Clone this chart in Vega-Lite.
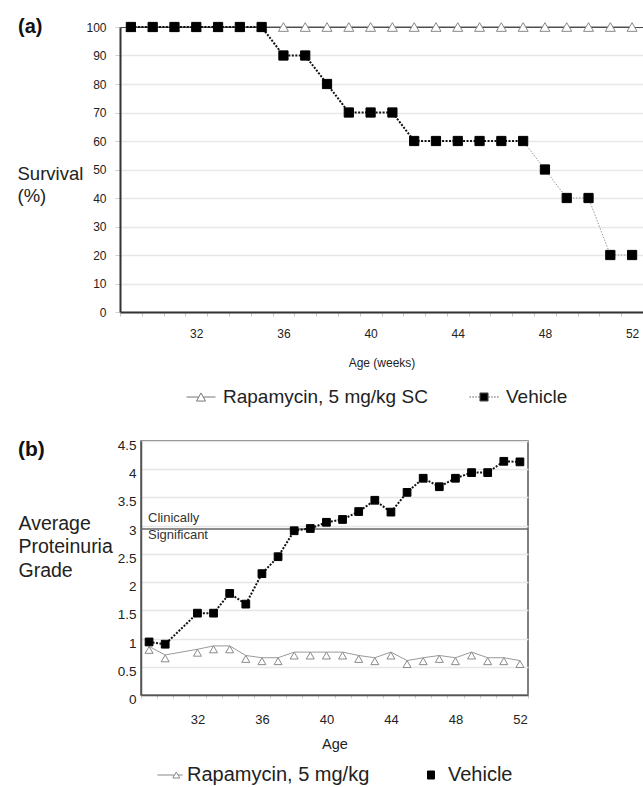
{
  "$schema": "https://vega.github.io/schema/vega-lite/v6.json",
  "padding": {"left": 17, "top": 17, "right": 0, "bottom": 0},
  "autosize": {"type": "pad"},
  "background": "white",
  "config": {
    "font": "Liberation Sans",
    "view": {"stroke": null},
    "axis": {"labelFont": "Liberation Sans", "titleFont": "Liberation Sans", "labelColor": "#222", "titleColor": "#222", "titleFontWeight": "normal"},
    "legend": {"labelFont": "Liberation Sans", "labelColor": "#222", "labelLimit": 0},
    "title": {"font": "Liberation Sans"}
  },
  "datasets": {
    "survival": [
      {"group": "Rapamycin, 5 mg/kg SC", "week": 29, "survival": 100},
      {"group": "Rapamycin, 5 mg/kg SC", "week": 30, "survival": 100},
      {"group": "Rapamycin, 5 mg/kg SC", "week": 31, "survival": 100},
      {"group": "Rapamycin, 5 mg/kg SC", "week": 32, "survival": 100},
      {"group": "Rapamycin, 5 mg/kg SC", "week": 33, "survival": 100},
      {"group": "Rapamycin, 5 mg/kg SC", "week": 34, "survival": 100},
      {"group": "Rapamycin, 5 mg/kg SC", "week": 35, "survival": 100},
      {"group": "Rapamycin, 5 mg/kg SC", "week": 36, "survival": 100},
      {"group": "Rapamycin, 5 mg/kg SC", "week": 37, "survival": 100},
      {"group": "Rapamycin, 5 mg/kg SC", "week": 38, "survival": 100},
      {"group": "Rapamycin, 5 mg/kg SC", "week": 39, "survival": 100},
      {"group": "Rapamycin, 5 mg/kg SC", "week": 40, "survival": 100},
      {"group": "Rapamycin, 5 mg/kg SC", "week": 41, "survival": 100},
      {"group": "Rapamycin, 5 mg/kg SC", "week": 42, "survival": 100},
      {"group": "Rapamycin, 5 mg/kg SC", "week": 43, "survival": 100},
      {"group": "Rapamycin, 5 mg/kg SC", "week": 44, "survival": 100},
      {"group": "Rapamycin, 5 mg/kg SC", "week": 45, "survival": 100},
      {"group": "Rapamycin, 5 mg/kg SC", "week": 46, "survival": 100},
      {"group": "Rapamycin, 5 mg/kg SC", "week": 47, "survival": 100},
      {"group": "Rapamycin, 5 mg/kg SC", "week": 48, "survival": 100},
      {"group": "Rapamycin, 5 mg/kg SC", "week": 49, "survival": 100},
      {"group": "Rapamycin, 5 mg/kg SC", "week": 50, "survival": 100},
      {"group": "Rapamycin, 5 mg/kg SC", "week": 51, "survival": 100},
      {"group": "Rapamycin, 5 mg/kg SC", "week": 52, "survival": 100},
      {"group": "Vehicle", "week": 29, "survival": 100},
      {"group": "Vehicle", "week": 30, "survival": 100},
      {"group": "Vehicle", "week": 31, "survival": 100},
      {"group": "Vehicle", "week": 32, "survival": 100},
      {"group": "Vehicle", "week": 33, "survival": 100},
      {"group": "Vehicle", "week": 34, "survival": 100},
      {"group": "Vehicle", "week": 35, "survival": 100},
      {"group": "Vehicle", "week": 36, "survival": 90},
      {"group": "Vehicle", "week": 37, "survival": 90},
      {"group": "Vehicle", "week": 38, "survival": 80},
      {"group": "Vehicle", "week": 39, "survival": 70},
      {"group": "Vehicle", "week": 40, "survival": 70},
      {"group": "Vehicle", "week": 41, "survival": 70},
      {"group": "Vehicle", "week": 42, "survival": 60},
      {"group": "Vehicle", "week": 43, "survival": 60},
      {"group": "Vehicle", "week": 44, "survival": 60},
      {"group": "Vehicle", "week": 45, "survival": 60},
      {"group": "Vehicle", "week": 46, "survival": 60},
      {"group": "Vehicle", "week": 47, "survival": 60},
      {"group": "Vehicle", "week": 48, "survival": 50},
      {"group": "Vehicle", "week": 49, "survival": 40},
      {"group": "Vehicle", "week": 50, "survival": 40},
      {"group": "Vehicle", "week": 51, "survival": 20},
      {"group": "Vehicle", "week": 52, "survival": 20}
    ],
    "proteinuria": [
      {"group": "Rapamycin, 5 mg/kg", "week": 29, "grade": 0.86},
      {"group": "Rapamycin, 5 mg/kg", "week": 30, "grade": 0.71},
      {"group": "Rapamycin, 5 mg/kg", "week": 32, "grade": 0.81},
      {"group": "Rapamycin, 5 mg/kg", "week": 33, "grade": 0.87},
      {"group": "Rapamycin, 5 mg/kg", "week": 34, "grade": 0.87},
      {"group": "Rapamycin, 5 mg/kg", "week": 35, "grade": 0.70},
      {"group": "Rapamycin, 5 mg/kg", "week": 36, "grade": 0.66},
      {"group": "Rapamycin, 5 mg/kg", "week": 37, "grade": 0.66},
      {"group": "Rapamycin, 5 mg/kg", "week": 38, "grade": 0.76},
      {"group": "Rapamycin, 5 mg/kg", "week": 39, "grade": 0.76},
      {"group": "Rapamycin, 5 mg/kg", "week": 40, "grade": 0.76},
      {"group": "Rapamycin, 5 mg/kg", "week": 41, "grade": 0.76},
      {"group": "Rapamycin, 5 mg/kg", "week": 42, "grade": 0.70},
      {"group": "Rapamycin, 5 mg/kg", "week": 43, "grade": 0.66},
      {"group": "Rapamycin, 5 mg/kg", "week": 44, "grade": 0.76},
      {"group": "Rapamycin, 5 mg/kg", "week": 45, "grade": 0.61},
      {"group": "Rapamycin, 5 mg/kg", "week": 46, "grade": 0.66},
      {"group": "Rapamycin, 5 mg/kg", "week": 47, "grade": 0.70},
      {"group": "Rapamycin, 5 mg/kg", "week": 48, "grade": 0.66},
      {"group": "Rapamycin, 5 mg/kg", "week": 49, "grade": 0.76},
      {"group": "Rapamycin, 5 mg/kg", "week": 50, "grade": 0.66},
      {"group": "Rapamycin, 5 mg/kg", "week": 51, "grade": 0.66},
      {"group": "Rapamycin, 5 mg/kg", "week": 52, "grade": 0.61},
      {"group": "Vehicle", "week": 29, "grade": 0.94},
      {"group": "Vehicle", "week": 30, "grade": 0.90},
      {"group": "Vehicle", "week": 32, "grade": 1.45},
      {"group": "Vehicle", "week": 33, "grade": 1.45},
      {"group": "Vehicle", "week": 34, "grade": 1.80},
      {"group": "Vehicle", "week": 35, "grade": 1.61},
      {"group": "Vehicle", "week": 36, "grade": 2.15},
      {"group": "Vehicle", "week": 37, "grade": 2.45},
      {"group": "Vehicle", "week": 38, "grade": 2.91},
      {"group": "Vehicle", "week": 39, "grade": 2.95},
      {"group": "Vehicle", "week": 40, "grade": 3.06},
      {"group": "Vehicle", "week": 41, "grade": 3.11},
      {"group": "Vehicle", "week": 42, "grade": 3.25},
      {"group": "Vehicle", "week": 43, "grade": 3.45},
      {"group": "Vehicle", "week": 44, "grade": 3.24},
      {"group": "Vehicle", "week": 45, "grade": 3.59},
      {"group": "Vehicle", "week": 46, "grade": 3.84},
      {"group": "Vehicle", "week": 47, "grade": 3.69},
      {"group": "Vehicle", "week": 48, "grade": 3.84},
      {"group": "Vehicle", "week": 49, "grade": 3.94},
      {"group": "Vehicle", "week": 50, "grade": 3.94},
      {"group": "Vehicle", "week": 51, "grade": 4.14},
      {"group": "Vehicle", "week": 52, "grade": 4.13}
    ],
    "threshold": [
      {"grade": 2.94, "note": "Clinically Significant"}
    ]
  },
  "bounds": "flush",
  "spacing": 129,
  "resolve": {
    "scale": {"shape": "independent", "fill": "independent", "stroke": "independent"},
    "legend": {"shape": "independent", "fill": "independent", "stroke": "independent"}
  },
  "vconcat": [
    {
      "width": 523,
      "height": 285,
      "title": {"text": "(a)", "anchor": "start", "frame": "group", "dx": -102, "dy": 6, "offset": -21, "baseline": "middle", "fontSize": 20, "fontWeight": "bold", "color": "#111"},
      "data": {"name": "survival"},
      "resolve": {"axis": {"x": "independent"}},
      "layer": [
        {
          "transform": [{"filter": "datum.group == 'Rapamycin, 5 mg/kg SC'"}],
          "mark": {"type": "line", "color": "#555", "strokeWidth": 1.2},
          "encoding": {
            "x": {"field": "week", "type": "quantitative", "scale": {"domain": [28.5, 52.5], "nice": false, "zero": false},
              "axis": {"orient": "bottom", "values": [28.5, 29.5, 30.5, 31.5, 32.5, 33.5, 34.5, 35.5, 36.5, 37.5, 38.5, 39.5, 40.5, 41.5, 42.5, 43.5, 44.5, 45.5, 46.5, 47.5, 48.5, 49.5, 50.5, 51.5, 52.5],
                "tickCount": 500, "labels": false, "tickSize": 4, "tickColor": "#c8c8c8", "domainColor": "#333", "domainWidth": 2, "grid": false, "title": null}},
            "y": {"field": "survival", "type": "quantitative", "scale": {"domain": [0, 100], "nice": false},
              "axis": {"values": [0, 10, 20, 30, 40, 50, 60, 70, 80, 90, 100], "tickCount": 500, "format": "d", "labelOverlap": false, "labelFontSize": 12, "tickSize": 5, "tickColor": "#d0d0d0", "labelPadding": 9,
                "domainColor": "#333", "domainWidth": 2,
                "gridColor": {"condition": {"test": "datum.value == 100", "value": "#444"}, "value": "#e8e8e8"},
                "gridWidth": {"condition": {"test": "datum.value == 100", "value": 1.2}, "value": 1.5},
                "title": ["Survival", "(%)"], "titleAngle": 0, "titleAlign": "left", "titleBaseline": "middle", "titleX": -103, "titleY": 146, "titleFontSize": 18.5, "titleLineHeight": 22}}
          }
        },
        {
          "transform": [{"filter": "datum.group == 'Vehicle' && datum.week <= 47"}],
          "mark": {"type": "line", "color": "#111", "strokeWidth": 2, "strokeDash": [2, 1.5]},
          "encoding": {
            "x": {"field": "week", "type": "quantitative",
              "axis": {"orient": "bottom", "values": [32, 36, 40, 44, 48, 52], "tickCount": 500, "format": "d", "ticks": false, "tickSize": 0, "domain": false, "grid": false, "labelFontSize": 12, "labelPadding": 16,
                "labelFlush": false, "labelOverlap": false, "labelBound": false, "title": "Age (weeks)", "titleFontSize": 12, "titlePadding": 18}},
            "y": {"field": "survival", "type": "quantitative"}
          }
        },
        {
          "transform": [{"filter": "datum.group == 'Vehicle' && datum.week >= 47"}],
          "mark": {"type": "line", "color": "#999", "strokeWidth": 1, "strokeDash": [1.5, 1.5]},
          "encoding": {
            "x": {"field": "week", "type": "quantitative", "axis": null},
            "y": {"field": "survival", "type": "quantitative"}
          }
        },
        {
          "mark": {"type": "point", "opacity": 1, "strokeWidth": 1},
          "encoding": {
            "x": {"field": "week", "type": "quantitative", "axis": null},
            "y": {"field": "survival", "type": "quantitative"},
            "shape": {"condition": {"test": "datum.group == 'Vehicle'", "value": "square"}, "value": "triangle-up"},
            "fill": {"condition": {"test": "datum.group == 'Vehicle'", "value": "#000000"}, "value": "#ffffff"},
            "stroke": {"condition": {"test": "datum.group == 'Vehicle'", "value": "#000000"}, "value": "#888888"},
            "size": {"condition": {"test": "datum.group == 'Vehicle'", "value": 85}, "value": 100}
          }
        },
        {
          "mark": {"type": "point", "opacity": 0},
          "encoding": {
            "x": {"field": "week", "type": "quantitative", "axis": null},
            "y": {"field": "survival", "type": "quantitative"},
            "shape": {"field": "group", "type": "nominal",
              "scale": {"domain": ["Rapamycin, 5 mg/kg SC", "Vehicle"], "range": ["M-1,0H-0.16M0.16,0H1M0,-0.28L0.31,0.28H-0.31Z", "M-1,0H-0.9M-0.8,0H-0.7M-0.6,0H-0.5M-0.4,0H-0.3M0.3,0H0.4M0.5,0H0.6M0.7,0H0.8M0.9,0H1M-0.28,-0.28H0.28V0.28H-0.28Z"]},
              "legend": {"orient": "none", "legendX": 66, "legendY": 355, "direction": "horizontal", "title": null, "labelFontSize": 19, "labelLimit": 0, "symbolSize": 841, "symbolOpacity": 1, "symbolStrokeWidth": 1, "labelOffset": 7, "columnPadding": 39}},
            "fill": {"field": "group", "type": "nominal", "scale": {"domain": ["Rapamycin, 5 mg/kg SC", "Vehicle"], "range": ["#ffffff", "#000000"]}},
            "stroke": {"field": "group", "type": "nominal", "scale": {"domain": ["Rapamycin, 5 mg/kg SC", "Vehicle"], "range": ["#777777", "#555555"]}}
          }
        }
      ]
    },
    {
      "bounds": "flush",
      "spacing": 0,
      "resolve": {
        "scale": {"shape": "independent", "fill": "independent", "stroke": "independent"},
        "legend": {"shape": "independent", "fill": "independent", "stroke": "independent"}
      },
      "hconcat": [
        {
          "width": 21,
          "height": 10,
          "data": {"values": [{}]},
          "mark": {"type": "point", "opacity": 0}
        },
        {
          "width": 387,
          "height": 254,
          "view": {"stroke": "#555", "strokeWidth": 1.5},
          "title": {"text": "(b)", "anchor": "start", "frame": "group", "dx": -123, "dy": 9, "offset": -23.5, "baseline": "middle", "fontSize": 21, "fontWeight": "bold", "color": "#111"},
          "resolve": {"axis": {"x": "independent"}},
          "layer": [
            {
              "data": {"name": "threshold"},
              "mark": {"type": "rule", "color": "#666", "strokeWidth": 1.5},
              "encoding": {
                "y": {"field": "grade", "type": "quantitative", "scale": {"domain": [0, 4.5], "nice": false},
                  "axis": {"values": [0, 0.5, 1, 1.5, 2, 2.5, 3, 3.5, 4, 4.5], "tickCount": 500, "format": ".1~f", "labelOverlap": false, "labelFontSize": 13.5, "ticks": false, "labelPadding": 5, "labelOffset": 4.5,
                    "domainColor": "#555", "domainWidth": 1.5, "gridColor": "#e6e6e6", "gridWidth": 1.5,
                    "title": ["Average", "Proteinuria", "Grade"], "titleAngle": 0, "titleAlign": "left", "titleBaseline": "middle", "titleX": -123, "titleY": 82, "titleFontSize": 19.5, "titleLineHeight": 23.5}}
              }
            },
            {
              "data": {"name": "threshold"},
              "mark": {"type": "text", "align": "left", "baseline": "middle", "lineBreak": " ", "fontSize": 13, "lineHeight": 17, "dx": 7, "dy": -11, "color": "#333"},
              "encoding": {
                "x": {"datum": 28.5, "type": "quantitative", "axis": null},
                "y": {"field": "grade", "type": "quantitative"},
                "text": {"field": "note"}
              }
            },
            {
              "data": {"name": "proteinuria"},
              "transform": [{"filter": "datum.group == 'Rapamycin, 5 mg/kg'"}],
              "mark": {"type": "line", "color": "#9a9a9a", "strokeWidth": 1},
              "encoding": {
                "x": {"field": "week", "type": "quantitative", "scale": {"domain": [28.5, 52.5], "nice": false, "zero": false},
                  "axis": {"orient": "bottom", "values": [28.5, 29.5, 30.5, 31.5, 32.5, 33.5, 34.5, 35.5, 36.5, 37.5, 38.5, 39.5, 40.5, 41.5, 42.5, 43.5, 44.5, 45.5, 46.5, 47.5, 48.5, 49.5, 50.5, 51.5, 52.5],
                    "tickCount": 500, "labels": false, "tickSize": 3, "tickColor": "#c8c8c8", "domainColor": "#555", "domainWidth": 1.5, "grid": false, "title": null}},
                "y": {"field": "grade", "type": "quantitative"}
              }
            },
            {
              "data": {"name": "proteinuria"},
              "transform": [{"filter": "datum.group == 'Vehicle'"}],
              "mark": {"type": "line", "color": "#111", "strokeWidth": 2, "strokeDash": [2, 1.5]},
              "encoding": {
                "x": {"field": "week", "type": "quantitative",
                  "axis": {"orient": "bottom", "values": [32, 36, 40, 44, 48, 52], "tickCount": 500, "format": "d", "ticks": false, "tickSize": 0, "domain": false, "grid": false, "labelFontSize": 13, "labelPadding": 18,
                    "labelFlush": false, "labelOverlap": false, "labelBound": false, "title": "Age", "titleFontSize": 14.5, "titlePadding": 11}},
                "y": {"field": "grade", "type": "quantitative"}
              }
            },
            {
              "data": {"name": "proteinuria"},
              "mark": {"type": "point", "opacity": 1, "strokeWidth": 1},
              "encoding": {
                "x": {"field": "week", "type": "quantitative", "axis": null},
                "y": {"field": "grade", "type": "quantitative"},
                "shape": {"condition": {"test": "datum.group == 'Vehicle'", "value": "square"}, "value": "M0,0L0.55,0.95L-0.55,0.95Z"},
                "fill": {"condition": {"test": "datum.group == 'Vehicle'", "value": "#000000"}, "value": "#ffffff"},
                "stroke": {"condition": {"test": "datum.group == 'Vehicle'", "value": "#000000"}, "value": "#8a8a8a"},
                "size": {"condition": {"test": "datum.group == 'Vehicle'", "value": 60}, "value": 211}
              }
            },
            {
              "data": {"name": "proteinuria"},
              "mark": {"type": "point", "opacity": 0},
              "encoding": {
                "x": {"field": "week", "type": "quantitative", "axis": null},
                "y": {"field": "grade", "type": "quantitative"},
                "shape": {"field": "group", "type": "nominal",
                  "scale": {"domain": ["Rapamycin, 5 mg/kg", "Vehicle"], "range": ["M-1,0H0.36M0.64,0H1M0.5,-0.24L0.78,0.24H0.22Z", "M-0.28,-0.32H0.28V0.32H-0.28Z"]},
                  "legend": {"orient": "none", "legendX": 16, "legendY": 321, "direction": "horizontal", "title": null, "labelFontSize": 20, "labelLimit": 0, "symbolSize": 625, "symbolOpacity": 1, "symbolStrokeWidth": 1, "labelOffset": 4, "columnPadding": 48}},
                "fill": {"field": "group", "type": "nominal", "scale": {"domain": ["Rapamycin, 5 mg/kg", "Vehicle"], "range": ["#ffffff", "#000000"]}},
                "stroke": {"field": "group", "type": "nominal", "scale": {"domain": ["Rapamycin, 5 mg/kg", "Vehicle"], "range": ["#888888", "#000000"]}}
              }
            }
          ]
        }
      ]
    }
  ]
}
